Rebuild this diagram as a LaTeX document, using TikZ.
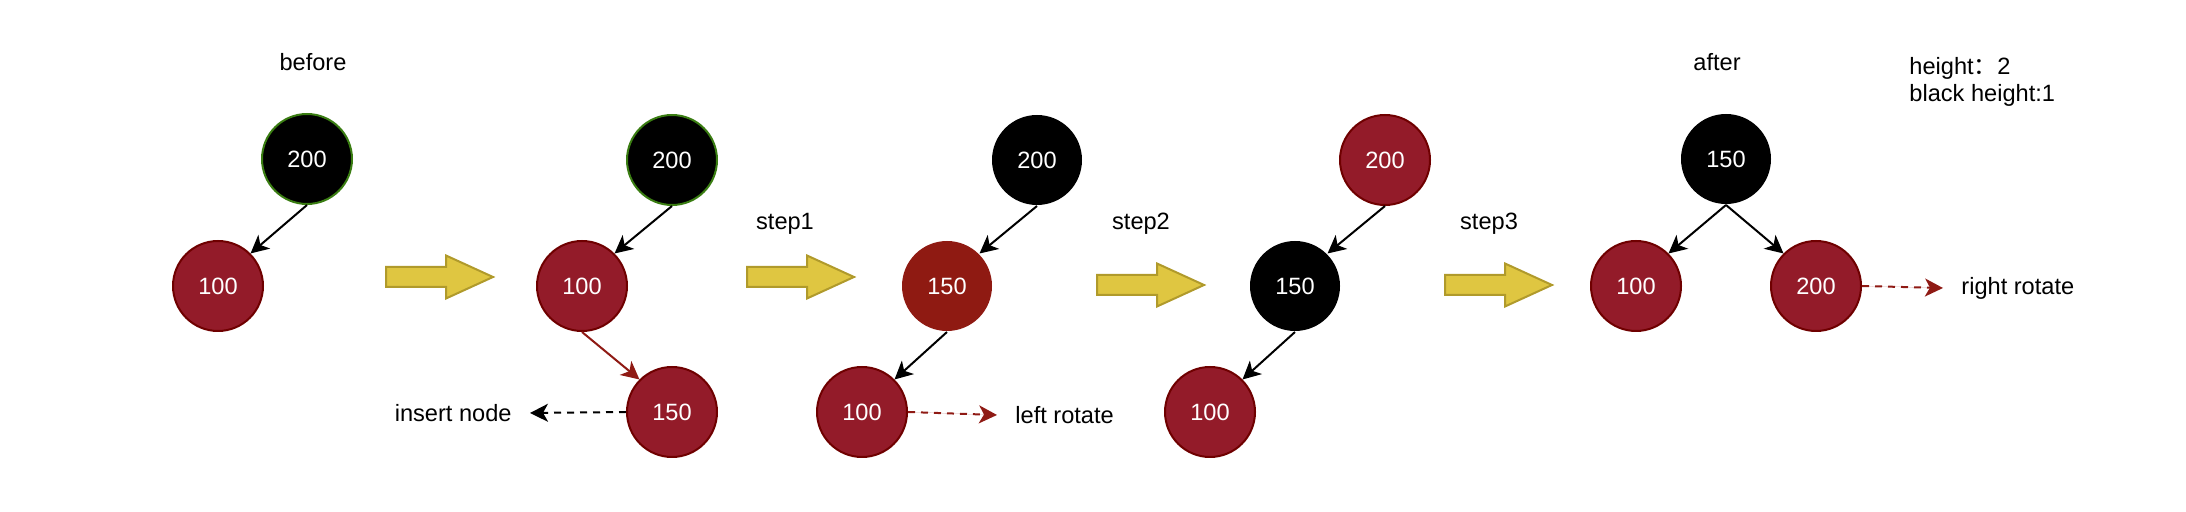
\documentclass[tikz,border=0pt]{standalone}
\usepackage{fontspec}
\setmainfont{Liberation Sans}
\newfontfamily\cjk{Noto Sans CJK SC}
\usetikzlibrary{arrows.meta}
\definecolor{rbfill}{HTML}{931B29}
\definecolor{rbstroke}{HTML}{6F0000}
\definecolor{rbdark}{HTML}{8F1A12}
\definecolor{rbgreen}{HTML}{3A7D12}
\definecolor{yfill}{HTML}{DFC641}
\definecolor{ystroke}{HTML}{B09A2B}
\definecolor{redline}{HTML}{8F1A14}
\newcommand\yarrow[2]{%
  \draw[bigarrow] (#1,#2-10) -- (#1+60,#2-10) -- (#1+60,#2-21.5) -- (#1+107,#2)
    -- (#1+60,#2+21.5) -- (#1+60,#2+10) -- (#1,#2+10) -- cycle;}
\begin{document}
\begin{tikzpicture}[x=0.5pt,y=-0.5pt,
  font=\fontsize{11.8pt}{14.5pt}\selectfont,
  rbnode/.style={circle, minimum size=45pt, inner sep=0pt, line width=1pt, text=white},
  rednode/.style={rbnode, fill=rbfill, draw=rbstroke},
  darkred/.style={rbnode, fill=rbdark},
  blacknode/.style={rbnode, fill=black},
  blackgreen/.style={blacknode, draw=rbgreen},
  treeedge/.style={-{Stealth[length=9pt,width=9pt,inset=2.5pt]}, line width=1pt},
  dashedge/.style={treeedge, dash pattern=on 3.5pt off 3pt},
  caption/.style={inner sep=0pt},
  sidenote/.style={inner ysep=0pt, inner xsep=9pt},
  bigarrow/.style={fill=yfill, draw=ystroke, line width=1pt}]
\useasboundingbox (0,0) rectangle (2186,512);

% before
\node[caption] (tbefore) at (313,62) {before};
\node[blackgreen] (A200) at (307,159) {200};
\node[rednode] (A100) at (218,286) {100};
\draw[treeedge] (A200.south) -- (A100.north east);

\yarrow{386}{277}

% inserted
\node[blackgreen] (B200) at (672,160) {200};
\node[rednode] (B100) at (582,286) {100};
\node[rednode] (B150) at (672,412) {150};
\draw[treeedge] (B200.south) -- (B100.north east);
\draw[treeedge, draw=redline, fill=redline] (B100.south) -- (B150.north west);
\node[sidenote, anchor=east] (ins) at (530,413) {insert node};
\draw[dashedge] (B150.west) -- (ins.east);

% step1
\node[caption] (tstep1) at (785,224) {step1};
\yarrow{747}{277}
\node[blacknode] (C200) at (1037,160) {200};
\node[darkred] (C150) at (947,286) {150};
\node[rednode] (C100) at (862,412) {100};
\draw[treeedge] (C200.south) -- (C150.north east);
\draw[treeedge] (C150.south) -- (C100.north east);
\node[sidenote, anchor=west] (lrot) at (997,415) {left rotate};
\draw[dashedge, draw=redline, fill=redline] (C100.east) -- (lrot.west);

% step2
\node[caption] (tstep2) at (1141,224) {step2};
\yarrow{1097}{285}
\node[rednode] (D200) at (1385,160) {200};
\node[blacknode] (D150) at (1295,286) {150};
\node[rednode] (D100) at (1210,412) {100};
\draw[treeedge] (D200.south) -- (D150.north east);
\draw[treeedge] (D150.south) -- (D100.north east);

% step3
\node[caption] (tstep3) at (1489,224) {step3};
\yarrow{1445}{285}

% after
\node[caption] (tafter) at (1717,62) {after};
\node[blacknode] (E150) at (1726,159) {150};
\node[rednode] (E100) at (1636,286) {100};
\node[rednode] (E200) at (1816,286) {200};
\draw[treeedge] (E150.south) -- (E100.north east);
\draw[treeedge] (E150.south) -- (E200.north west);
\node[sidenote, anchor=west] (rrot) at (1943,288) {right rotate};
\draw[dashedge, draw=redline, fill=redline] (E200.east) -- (rrot.west);

\node[caption, anchor=north west, align=left,
  font=\fontsize{11.8pt}{13.5pt}\selectfont] (hinfo) at (1909,57)
  {height{\cjk ：}2\\black height:1};
\end{tikzpicture}
\end{document}
